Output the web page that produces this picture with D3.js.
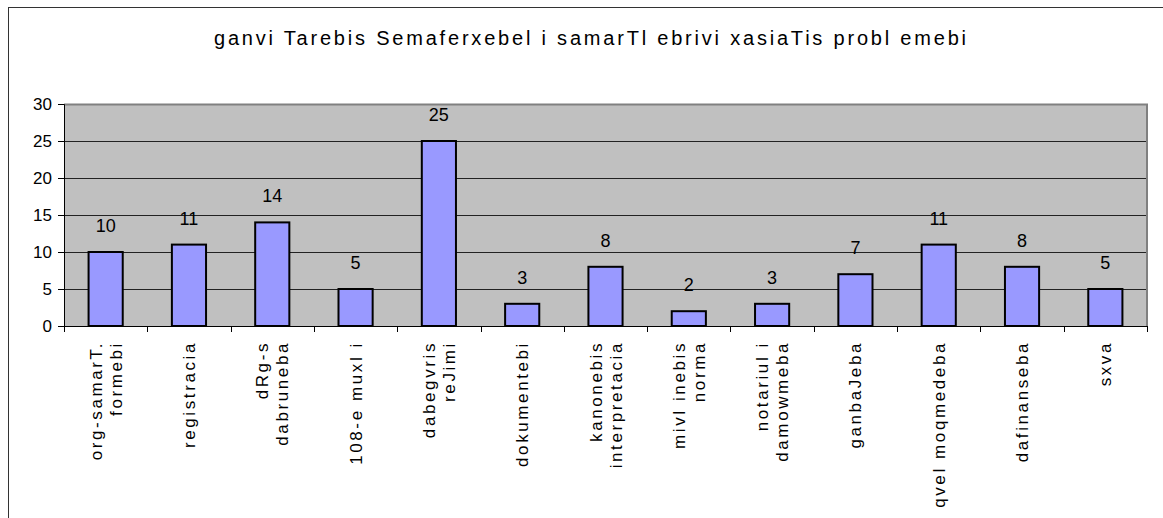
<!DOCTYPE html>
<html>
<head>
<meta charset="utf-8">
<script src="https://cdn.jsdelivr.net/npm/d3@7"></script>
<style>
    body { margin: 0; background: #fff; }
    svg { display: block; }
    text { font-family: "Liberation Sans", Arial, sans-serif; fill: #000; }
</style>
</head>
<body>
<div id="graph"></div>
<script>
const title = "ganvi Tarebis Semaferxebel i samarTl ebrivi  xasiaTis probl emebi";

// each category label as its lines, bottom-to-top reading order
const categories = [
    ["org-samarT.", "formebi"],
    ["registracia"],
    ["dRg-s", "dabruneba"],
    ["108-e muxl i"],
    ["dabegvris", "reJimi"],
    ["dokumentebi"],
    ["kanonebis", "interpretacia"],
    ["mivl inebis", "norma"],
    ["notariul i", "damowmeba"],
    ["ganbaJeba"],
    ["qvel moqmedeba"],
    ["dafinanseba"],
    ["sxva"]
];
const values = [10, 11, 14, 5, 25, 3, 8, 2, 3, 7, 11, 8, 5];
const yTicks = [0, 5, 10, 15, 20, 25, 30];

const W = 1163, H = 518;
const plot = {left: 64, right: 1147, top: 104, bottom: 326};

const svg = d3.select("#graph").append("svg")
    .attr("width", W)
    .attr("height", H);

// outer chart frame
svg.append("rect")
    .attr("x", 8.5).attr("y", 7.5)
    .attr("width", W + 20).attr("height", H + 20)
    .attr("fill", "#fff")
    .attr("stroke", "#333");

svg.append("text")
    .attr("x", 590).attr("y", 45)
    .attr("text-anchor", "middle")
    .attr("textLength", 752)
    .attr("lengthAdjust", "spacing")
    .style("font-size", "20px")
    .text(title);

const keys = categories.map((c, i) => i);
const p = 0.59;
const x = d3.scaleBand()
    .domain(keys)
    .range([plot.left, plot.right])
    .paddingInner(p)
    .paddingOuter(p / 2);
const step = x.step();

const y = d3.scaleLinear()
    .domain([0, 30])
    .range([plot.bottom, plot.top]);

svg.append("rect")
    .attr("x", plot.left).attr("y", plot.top)
    .attr("width", plot.right - plot.left)
    .attr("height", plot.bottom - plot.top)
    .attr("fill", "#c0c0c0");

// gridlines
svg.append("g")
    .selectAll("line")
    .data(yTicks.filter(t => t > 0 && t < 30))
    .join("line")
    .attr("x1", plot.left).attr("x2", plot.right)
    .attr("y1", d => Math.round(y(d)) + 0.5)
    .attr("y2", d => Math.round(y(d)) + 0.5)
    .attr("stroke", "#222")
    .attr("stroke-width", 1);

// plot border top / right
svg.append("path")
    .attr("d", `M${plot.left},${plot.top + 0.5}H${plot.right}V${plot.bottom}`)
    .attr("fill", "none")
    .attr("stroke", "#808080")
    .attr("stroke-width", 2);

// bars
svg.append("g")
    .selectAll("rect")
    .data(values)
    .join("rect")
    .attr("x", (d, i) => x(i))
    .attr("y", d => y(d))
    .attr("width", x.bandwidth())
    .attr("height", d => y(0) - y(d))
    .attr("fill", "#9999ff")
    .attr("stroke", "#000")
    .attr("stroke-width", 2);

// value labels
svg.append("g")
    .selectAll("text")
    .data(values)
    .join("text")
    .attr("x", (d, i) => x(i) + x.bandwidth() / 2)
    .attr("y", d => y(d) - 20)
    .attr("text-anchor", "middle")
    .style("font-size", "18px")
    .text(d => d);

// y axis
const yAxis = d3.axisLeft(y)
    .tickValues(yTicks)
    .tickSize(6)
    .tickPadding(6);
const ga = svg.append("g")
    .attr("transform", `translate(${plot.left},0)`)
    .call(yAxis);
ga.select(".domain").attr("stroke", "#000");
ga.selectAll("text")
    .style("font-size", "17px")
    .style("font-family", "'Liberation Sans', Arial, sans-serif");

// x axis line and ticks at category boundaries
svg.append("line")
    .attr("x1", plot.left).attr("x2", plot.right)
    .attr("y1", plot.bottom + 0.5).attr("y2", plot.bottom + 0.5)
    .attr("stroke", "#000");
svg.append("g")
    .selectAll("line")
    .data(d3.range(categories.length + 1))
    .join("line")
    .attr("x1", i => Math.round(plot.left + i * step) + 0.5)
    .attr("x2", i => Math.round(plot.left + i * step) + 0.5)
    .attr("y1", plot.bottom)
    .attr("y2", plot.bottom + 6)
    .attr("stroke", "#000");

// rotated category labels
const lab = svg.append("g")
    .selectAll("text")
    .data(categories)
    .join("text")
    .attr("transform", (d, i) => `translate(${x(i) + x.bandwidth() / 2},341) rotate(-90)`)
    .attr("text-anchor", "end")
    .style("font-size", "17px")
    .style("letter-spacing", "2.6px");

lab.selectAll("tspan")
    .data(d => d.map((t, j) => ({t: t, j: j, n: d.length})))
    .join("tspan")
    .attr("x", 0)
    .attr("y", d => 6 + (d.j - (d.n - 1) / 2) * 20)
    .text(d => d.t);
</script>
</body>
</html>
